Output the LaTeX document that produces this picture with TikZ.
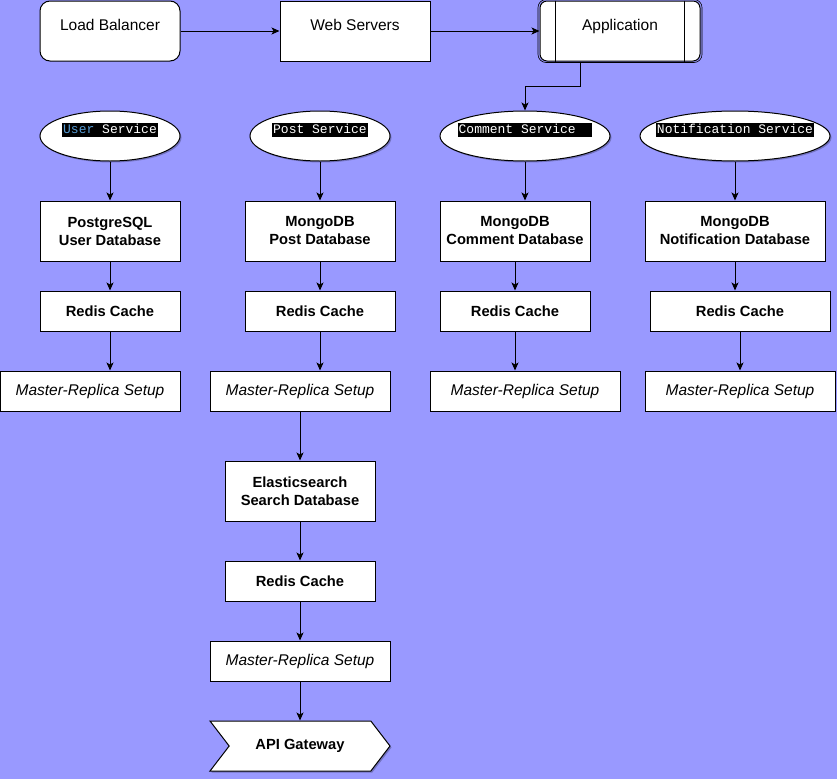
\documentclass[tikz,border=0pt]{standalone}
\usepackage{fontspec}
\setmainfont{Liberation Sans}
\setmonofont{Liberation Mono}
\usetikzlibrary{arrows.meta,shapes.geometric,shapes.symbols,shadows}

\definecolor{bgblue}{RGB}{153,153,255}
\definecolor{kwblue}{RGB}{86,156,214}

% service label: white mono text on black, sitting a bit above the centre
\newcommand{\svclabel}[1]{\makebox[0pt]{\raisebox{3pt}{\fboxsep=1pt\colorbox{black}{\color{white}\ttfamily\fontsize{13}{16}\selectfont\rule[-3pt]{0pt}{12pt}#1}}}}

\begin{document}
\begin{tikzpicture}[x=1pt, y=1pt,
  every node/.style={font=\fontsize{15.5}{18}\selectfont},
  plainbox/.style={shape=rectangle, draw, fill=white, line width=1pt, align=center},
  topbox/.style={plainbox, minimum height=60, text height=11pt, text depth=13pt},
  dbbox/.style={plainbox, minimum height=60, font=\fontsize{14.7}{18}\selectfont\bfseries},
  cachebox/.style={plainbox, minimum height=40, font=\fontsize{14.7}{18}\selectfont\bfseries},
  setupbox/.style={plainbox, minimum height=40, font=\fontsize{15.5}{18}\selectfont\itshape},
  svcnode/.style={shape=ellipse, draw, fill=white, line width=1pt, minimum height=50, inner sep=0pt,
    text height=0pt, text depth=0pt,
    drop shadow={shadow xshift=1.5pt, shadow yshift=-1.5pt, fill=black, opacity=0.25}},
  gateway/.style={shape=signal, signal from=west, signal to=east, signal pointer angle=105,
    draw, fill=white, line width=1pt, minimum width=180, minimum height=50, inner sep=0pt,
    font=\fontsize{14.7}{18}\selectfont\bfseries,
    drop shadow={shadow xshift=1.5pt, shadow yshift=-1.5pt, fill=black, opacity=0.25}},
  link/.style={-{Stealth[length=8pt, width=7pt, inset=2pt]}, line width=1pt}]

\useasboundingbox (0,0) rectangle (837,-779);
\fill[bgblue] (0,0) rectangle (837,-779);

% front row
\node [topbox, rounded corners=10pt, minimum width=140] (lb) at (110,-31) {Load Balancer};
\node [topbox, minimum width=150] (ws) at (355,-31) {Web Servers};
\node [topbox, rounded corners=7pt, minimum width=160] (app) at (620,-31) {Application};
\draw [line width=0.8pt] ([xshift=16pt]app.north west) -- ([xshift=16pt]app.south west);
\draw [line width=0.8pt] ([xshift=-16pt]app.north east) -- ([xshift=-16pt]app.south east);
\draw [line width=0.6pt, rounded corners=8pt] ([shift={(-1.5,1)}]app.north west) rectangle ([shift={(1.5,-1)}]app.south east);

% services
\node [svcnode, minimum width=140] (us) at (110,-136) {\svclabel{\textcolor{kwblue}{User} Service}};
\node [svcnode, minimum width=140] (ps) at (320,-136) {\svclabel{Post Service}};
\node [svcnode, minimum width=170] (cs) at (525,-136) {\svclabel{Comment Service\hspace{15.6pt}}};
\node [svcnode, minimum width=190] (ns) at (735,-136) {\svclabel{Notification Service}};

% databases
\node [dbbox, minimum width=140] (udb) at (110,-231) {PostgreSQL\\User Database};
\node [dbbox, minimum width=150] (pdb) at (320,-231) {MongoDB\\Post Database};
\node [dbbox, minimum width=150] (cdb) at (515,-231) {MongoDB\\Comment Database};
\node [dbbox, minimum width=180] (ndb) at (735,-231) {MongoDB\\Notification Database};

% caches
\node [cachebox, minimum width=140] (ur) at (110,-311) {Redis Cache};
\node [cachebox, minimum width=150] (pr) at (320,-311) {Redis Cache};
\node [cachebox, minimum width=150] (cr) at (515,-311) {Redis Cache};
\node [cachebox, minimum width=180] (nr) at (740,-311) {Redis Cache};

% replication
\node [setupbox, minimum width=180] (umr) at (90,-391) {Master-Replica Setup};
\node [setupbox, minimum width=180] (pmr) at (300,-391) {Master-Replica Setup};
\node [setupbox, minimum width=190] (cmr) at (525,-391) {Master-Replica Setup};
\node [setupbox, minimum width=190] (nmr) at (740,-391) {Master-Replica Setup};

% search branch
\node [dbbox, minimum width=150] (es) at (300,-491) {Elasticsearch\\Search Database};
\node [cachebox, minimum width=150] (er) at (300,-581) {Redis Cache};
\node [setupbox, minimum width=180] (emr) at (300,-661) {Master-Replica Setup};
\node [gateway] (api) at (300,-746) {API Gateway};

\draw [link] (lb) -- (ws);
\draw [link] (ws) -- (app);
\draw [link] ([xshift=-40pt]app.south) -- ++(0,-25) -| (cs.north);

\draw [link] (us) -- (udb);
\draw [link] (ps) -- (pdb);
\draw [link] (cs.south) -- (cs.south |- cdb.north);
\draw [link] (ns) -- (ndb);

\draw [link] (udb) -- (ur);
\draw [link] (pdb) -- (pr);
\draw [link] (cdb) -- (cr);
\draw [link] (ndb.south) -- (ndb.south |- nr.north);

\draw [link] (ur.south) -- (ur.south |- umr.north);
\draw [link] (pr.south) -- (pr.south |- pmr.north);
\draw [link] (cr.south) -- (cr.south |- cmr.north);
\draw [link] (nr) -- (nmr);

\draw [link] (pmr) -- (es);
\draw [link] (es) -- (er);
\draw [link] (er) -- (emr);
\draw [link] (emr) -- (api);
\end{tikzpicture}
\end{document}
